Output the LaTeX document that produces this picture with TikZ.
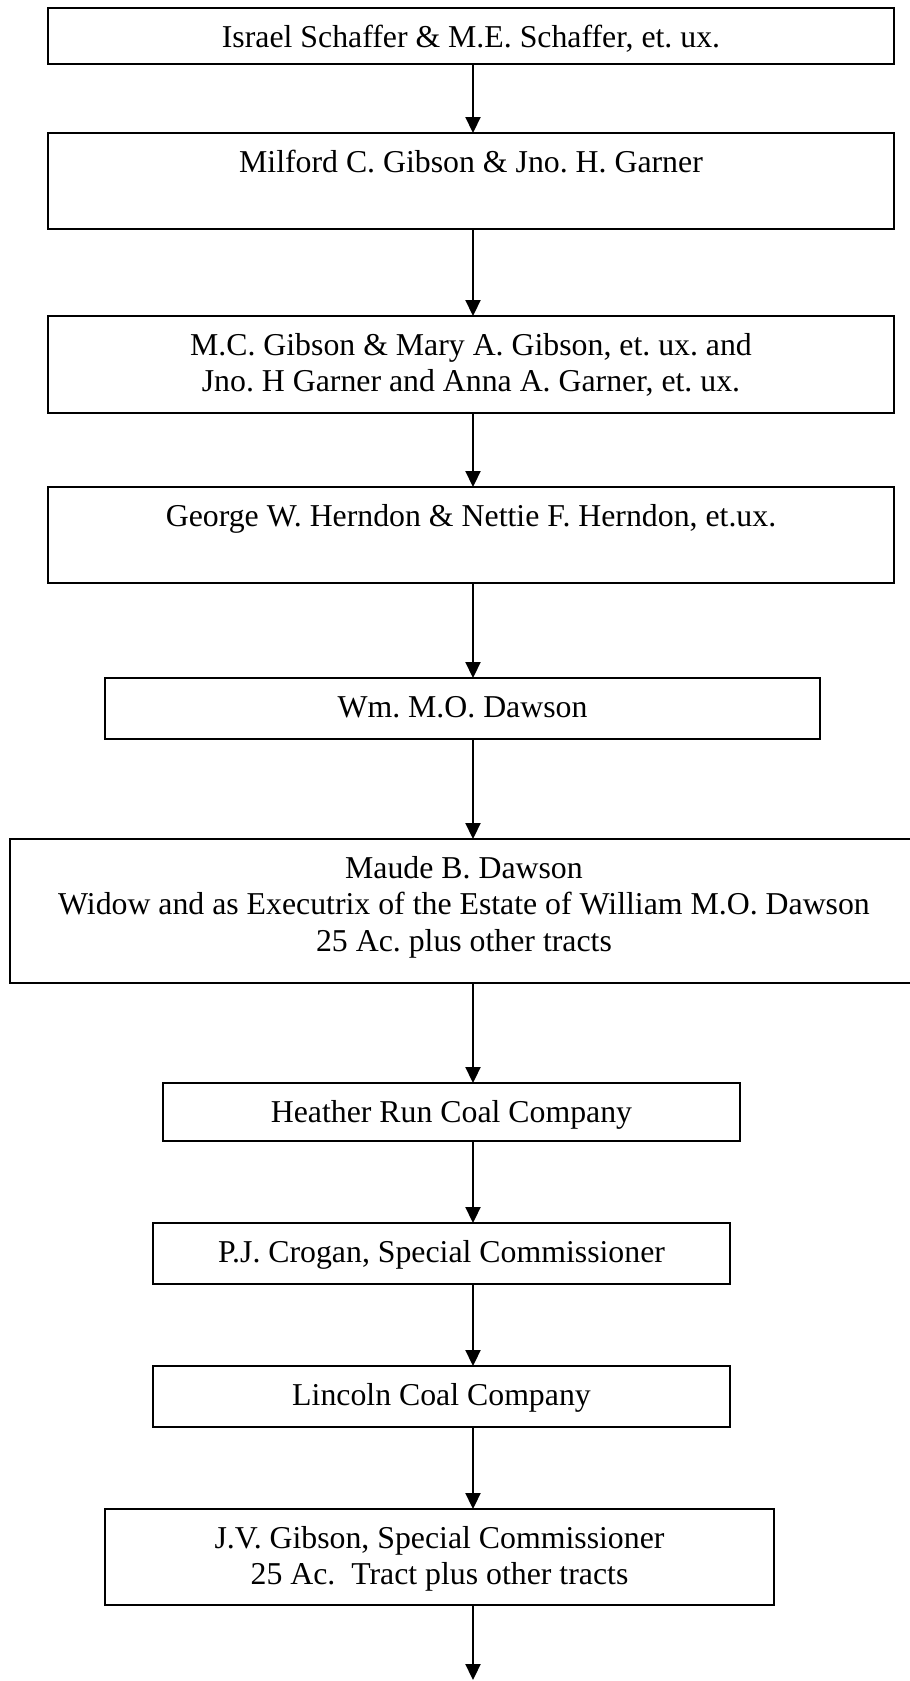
\documentclass[tikz,border=0pt]{standalone}
\usepackage{fontspec}
\setmainfont{Liberation Serif}
\usetikzlibrary{arrows.meta}
\begin{document}
\begin{tikzpicture}[x=0.5pt,y=-0.5pt,
  deedbox/.style={draw=black, line width=0.9pt, rectangle, inner sep=0pt, outer sep=0pt},
  deedtext/.style={anchor=base, inner sep=0pt, font=\fontsize{15.9}{18.35}\selectfont\frenchspacing},
  conn/.style={draw=black, line width=1.1pt, -{Triangle[width=7.5pt,length=8pt]}}]
\useasboundingbox (0,0) rectangle (910,1681);
\clip (0,0) rectangle (910,1681);

% chain of title boxes (sizes in pt, positions in half-points)
\node[deedbox, minimum width=423pt, minimum height=28pt]   (b1)  at (471,36)     {};
\node[deedbox, minimum width=423pt, minimum height=48pt]   (b2)  at (471,181)    {};
\node[deedbox, minimum width=423pt, minimum height=48.5pt] (b3)  at (471,364.5)  {};
\node[deedbox, minimum width=423pt, minimum height=48pt]   (b4)  at (471,535)    {};
\node[deedbox, minimum width=357.5pt, minimum height=30.5pt] (b5) at (462.5,708.5) {};
\node[deedbox, minimum width=454pt, minimum height=72pt]   (b6)  at (464,911)    {};
\node[deedbox, minimum width=288.5pt, minimum height=29pt] (b7)  at (451.5,1112) {};
\node[deedbox, minimum width=288.5pt, minimum height=30.5pt] (b8) at (441.5,1253.5) {};
\node[deedbox, minimum width=288.5pt, minimum height=30.5pt] (b9) at (441.5,1396.5) {};
\node[deedbox, minimum width=334.5pt, minimum height=48pt] (b10) at (439.5,1557) {};

% texts, placed by the baseline of their first line
\node[deedtext] (t1) at (471,47) {Israel Schaffer \& M.E. Schaffer, et. ux.};
\node[deedtext] (t2) at (471,172) {Milford C. Gibson \& Jno. H. Garner};
\node[deedtext] (t3) at (471,355) {\begin{tabular}[t]{@{}c@{}}M.C. Gibson \& Mary A. Gibson, et. ux. and\\ Jno. H Garner and Anna A. Garner, et. ux.\end{tabular}};
\node[deedtext] (t4) at (471,526) {George W. Herndon \& Nettie F. Herndon, et.ux.};
\node[deedtext] (t5) at (462.5,717) {Wm. M.O. Dawson};
\node[deedtext] (t6) at (464,878) {\begin{tabular}[t]{@{}c@{}}Maude B. Dawson\\ Widow and as Executrix of the Estate of William M.O. Dawson\\ 25 Ac. plus other tracts\end{tabular}};
\node[deedtext] (t7) at (451.5,1122) {Heather Run Coal Company};
\node[deedtext] (t8) at (441.5,1262) {P.J. Crogan, Special Commissioner};
\node[deedtext] (t9) at (441.5,1405) {Lincoln Coal Company};
\node[deedtext] (t10) at (439.5,1548) {\begin{tabular}[t]{@{}c@{}}J.V. Gibson, Special Commissioner\\ 25 Ac.\ \ Tract plus other tracts\end{tabular}};

% vertical axis of the connectors
\coordinate (ax) at (473,0);
\coordinate (tail) at (473,1680);

\draw[conn] (b1.south -| ax) -- (b2.north -| ax);
\draw[conn] (b2.south -| ax) -- (b3.north -| ax);
\draw[conn] (b3.south -| ax) -- (b4.north -| ax);
\draw[conn] (b4.south -| ax) -- (b5.north -| ax);
\draw[conn] (b5.south -| ax) -- (b6.north -| ax);
\draw[conn] (b6.south -| ax) -- (b7.north -| ax);
\draw[conn] (b7.south -| ax) -- (b8.north -| ax);
\draw[conn] (b8.south -| ax) -- (b9.north -| ax);
\draw[conn] (b9.south -| ax) -- (b10.north -| ax);
\draw[conn] (b10.south -| ax) -- (tail);
\end{tikzpicture}
\end{document}
